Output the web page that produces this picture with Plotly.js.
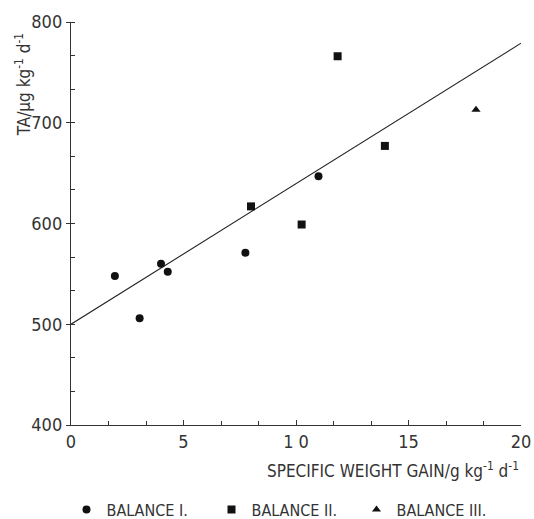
<!DOCTYPE html>
<html><head><meta charset="utf-8">
<script src="https://cdn.plot.ly/plotly-3.0.1.min.js"></script>
<style>body{margin:0;background:#fff}#chart{width:534px;height:519px}</style>
</head><body><div id="chart"></div>
<script>
const b1x = [1.95, 3.05, 4.0, 4.3, 7.75, 11.0];
const b1y = [548, 506, 560, 552, 571, 647];
const b2x = [8.0, 10.25, 11.85, 13.95];
const b2y = [617, 599, 766, 677];
const b3x = [18.0];
const b3y = [713];
const fitX = [0, 20];
const fitY = [500, 779];
const xTickVals = [0, 5, 10, 15, 20];
const xTickText = ['0', '5', '1 0', '15', '20'];
const yTickVals = [400, 500, 600, 700, 800];
const yTickText = ['400', '500', '600', '700', '800'];
const seriesNames = ['BALANCE I.', 'BALANCE II.', 'BALANCE III.'];

const FONT = '"Liberation Sans Narrow", "DejaVu Sans Condensed", "Liberation Sans", Arial, sans-serif';
const traces = [
  {x: fitX, y: fitY, mode: 'lines', line: {color: '#222', width: 1.1}, showlegend: false, hoverinfo: 'skip'},
  {x: b1x, y: b1y, mode: 'markers', name: seriesNames[0], marker: {symbol: 'circle', size: 8, color: '#111'}},
  {x: b2x, y: b2y, mode: 'markers', name: seriesNames[1], marker: {symbol: 'square', size: 8, color: '#111'}},
  {x: b3x, y: b3y, mode: 'markers', name: seriesNames[2], marker: {symbol: 'triangle-up', size: 8, color: '#111'}}
];
const layout = {
  width: 534, height: 519,
  margin: {l: 71, r: 13, t: 22, b: 94, autoexpand: false},
  paper_bgcolor: '#fff', plot_bgcolor: '#fff',
  font: {family: FONT, size: 17, color: '#333'},
  showlegend: true,
  legend: {orientation: 'h', x: -0.01, xanchor: 'left', y: -0.168, yanchor: 'top',
           font: {family: FONT, size: 16, color: '#333'}, entrywidth: 100, itemwidth: 30, tracegroupgap: 0},
  xaxis: {range: [0, 20], showgrid: false, zeroline: false, showline: true, linecolor: '#333', linewidth: 1.2,
          tickmode: 'array', tickvals: xTickVals, ticktext: xTickText,
          ticks: 'inside', ticklen: 5, tickcolor: '#333', tickwidth: 1,
          minor: {dtick: 5/3, ticks: 'inside', ticklen: 4, tickcolor: '#333', tickwidth: 1, showgrid: false},
          tickfont: {family: FONT, size: 18, color: '#333'}, fixedrange: true},
  yaxis: {range: [400, 800], showgrid: false, zeroline: false, showline: true, linecolor: '#333', linewidth: 1.2,
          tickmode: 'array', tickvals: yTickVals, ticktext: yTickText,
          ticks: 'outside', ticklen: 4, tickcolor: '#333', tickwidth: 1,
          minor: {dtick: 100/3, tick0: 400, ticks: 'inside', ticklen: 4, tickcolor: '#333', tickwidth: 1, showgrid: false},
          tickfont: {family: FONT, size: 18, color: '#333'}, fixedrange: true},
  annotations: [
    {xref: 'paper', yref: 'paper', x: 1, y: -0.112, xanchor: 'right', yanchor: 'middle', showarrow: false,
     text: 'SPECIFIC WEIGHT GAIN/g kg<sup>-1</sup> d<sup>-1</sup>', font: {family: FONT, size: 17, color: '#333'}},
    {xref: 'paper', yref: 'paper', x: -0.108, y: 0.844, xanchor: 'center', yanchor: 'middle', showarrow: false, textangle: -90,
     text: 'TA/μg kg<sup>-1</sup> d<sup>-1</sup>', font: {family: FONT, size: 17, color: '#333'}}
  ]
};
Plotly.newPlot('chart', traces, layout, {displayModeBar: false, staticPlot: true});
</script></body></html>
